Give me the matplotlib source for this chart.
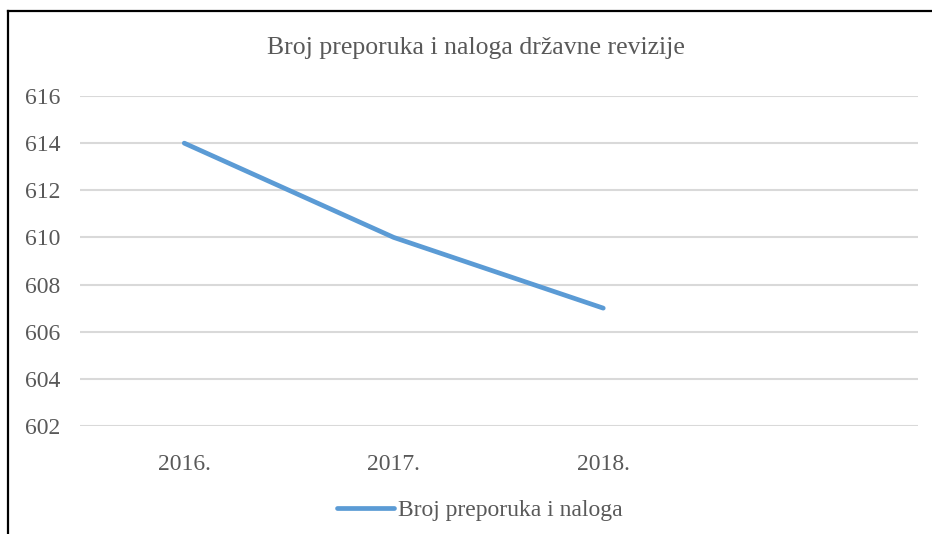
import matplotlib
matplotlib.use('Agg')
import matplotlib.pyplot as plt
from matplotlib.lines import Line2D

# data
years = ['2016.', '2017.', '2018.', '']
values = [614, 610, 607]
y_ticks = [602, 604, 606, 608, 610, 612, 614, 616]
series_name = 'Broj preporuka i naloga'
title = 'Broj preporuka i naloga državne revizije'

text_color = '#595959'
line_color = '#5B9BD5'
grid_color = '#D9D9D9'

plt.rcParams['font.family'] = ['Liberation Serif', 'DejaVu Serif']

fig = plt.figure(figsize=(9.32, 5.34), dpi=100)
W, H = 932, 534
ax = fig.add_axes([79.5 / W, 1 - 426 / H, 838 / W, 330 / H])

x = list(range(len(years)))
ax.plot(x[:len(values)], values, color=line_color, linewidth=3.4,
        solid_capstyle='round', label=series_name)

ax.set_xlim(-0.5, len(years) - 0.5)
ax.set_ylim(602, 616)
ax.set_xticks(x)
ax.set_xticklabels(years)
ax.set_yticks(y_ticks)
ax.tick_params(axis='both', length=0, labelsize=17, colors=text_color)
ax.tick_params(axis='x', pad=20)
ax.tick_params(axis='y', pad=14)
ax.grid(axis='y', color=grid_color, linewidth=1.5)
ax.set_axisbelow(True)
for s in ax.spines.values():
    s.set_visible(False)

fig.text(476 / W, 1 - 48 / H, title, ha='center', va='center',
         fontsize=18.5, color=text_color)

ax.legend(loc='center', bbox_to_anchor=(480 / W, 1 - 510 / H),
          bbox_transform=fig.transFigure, frameon=False, fontsize=17,
          labelcolor=text_color, handlelength=2.4, handletextpad=0.2)

# chart border (cropped, only top and left visible)
fig.add_artist(Line2D([8 / W, 8 / W], [0, 1 - 11 / H], color='black',
                      linewidth=1.6, transform=fig.transFigure))
fig.add_artist(Line2D([8 / W, 1], [1 - 11 / H, 1 - 11 / H], color='black',
                      linewidth=1.6, transform=fig.transFigure))

fig.savefig('out.png', dpi=100)
